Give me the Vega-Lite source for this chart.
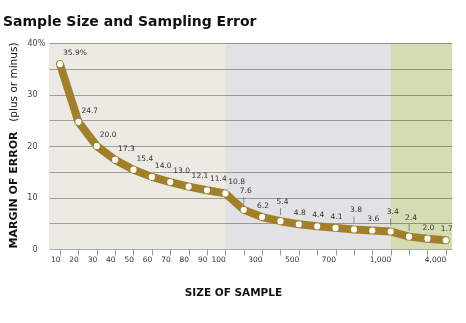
{
  "$schema": "https://vega.github.io/schema/vega-lite/v6.json",
  "width": 403,
  "height": 206,
  "autosize": {"type": "none"},
  "padding": {"left": 49, "top": 43, "right": 14, "bottom": 74},
  "background": "white",
  "config": {"view": {"fill": "white", "stroke": null}, "font": "DejaVu Sans"},
  "title": {"text": "Sample Size and Sampling Error", "anchor": "start", "frame": "group", "dx": -46, "offset": -1, "baseline": "alphabetic", "fontSize": 14, "fontWeight": "bold", "font": "DejaVu Sans", "color": "#111111"},
  "datasets": {
    "err": [
      {"n": 10, "margin": 35.9}, {"n": 20, "margin": 24.7}, {"n": 30, "margin": 20.0}, {"n": 40, "margin": 17.3},
      {"n": 50, "margin": 15.4}, {"n": 60, "margin": 14.0}, {"n": 70, "margin": 13.0}, {"n": 80, "margin": 12.1},
      {"n": 90, "margin": 11.4}, {"n": 100, "margin": 10.8}, {"n": 200, "margin": 7.6}, {"n": 300, "margin": 6.2},
      {"n": 400, "margin": 5.4}, {"n": 500, "margin": 4.8}, {"n": 600, "margin": 4.4}, {"n": 700, "margin": 4.1},
      {"n": 800, "margin": 3.8}, {"n": 900, "margin": 3.6}, {"n": 1000, "margin": 3.4}, {"n": 2000, "margin": 2.4},
      {"n": 3000, "margin": 2.0}, {"n": 4000, "margin": 1.7}
    ]
  },
  "data": {"name": "err"},
  "transform": [
    {"calculate": "format(datum.margin, '.1f') + (datum.n == 10 ? '%' : '')", "as": "label"}
  ],
  "resolve": {"axis": {"y": "independent"}},
  "layer": [
    {
      "data": {"values": [{}]},
      "mark": {"type": "rect", "color": "#ECEBE3", "blend": "multiply"},
      "encoding": {"x": {"datum": 100, "type": "ordinal"}, "x2": {"value": 0}}
    },
    {
      "data": {"values": [{}]},
      "mark": {"type": "rect", "color": "#E2E2E4", "blend": "multiply"},
      "encoding": {"x": {"datum": 100, "type": "ordinal"}, "x2": {"datum": 1000}}
    },
    {
      "data": {"values": [{}]},
      "mark": {"type": "rect", "color": "#D5DBB3", "blend": "multiply"},
      "encoding": {"x": {"datum": 1000, "type": "ordinal"}, "x2": {"value": "width"}}
    },
    {
      "mark": {"type": "line", "color": "#A17F2D", "strokeWidth": 8, "strokeJoin": "round", "strokeCap": "round"},
      "encoding": {
        "x": {
          "field": "n", "type": "ordinal",
          "scale": {"type": "point", "padding": 0.468, "align": 0.64},
          "axis": {
            "title": "SIZE OF SAMPLE", "titleFont": "DejaVu Sans", "titleFontSize": 10.5, "titleFontWeight": "bold", "titleColor": "#111111",
            "titleX": 184, "titleY": 46, "titleAlign": "center", "titleBaseline": "alphabetic", "titleAnchor": null,
            "domain": false, "ticks": true, "tickSize": 6, "tickColor": "#999999", "tickWidth": 1,
            "labelAngle": 0, "labelFont": "DejaVu Sans", "labelFontSize": 7.5, "labelColor": "#333333", "labelPadding": 4,
            "labelOverlap": false, "labelFlush": false,
            "labelExpr": "indexof([200,400,600,800,900,2000,3000], datum.value) >= 0 ? '' : format(datum.value, ',')"
          }
        },
        "y": {
          "field": "margin", "type": "quantitative",
          "scale": {"domain": [0, 40], "nice": false, "zero": true},
          "axis": {
            "orient": "left", "values": [0, 5, 10, 15, 20, 25, 30, 35, 40],
            "grid": true, "gridColor": "#ABABAB", "gridWidth": 1,
            "domain": false, "ticks": false, "tickSize": 0,
            "labelFont": "DejaVu Sans", "labelFontSize": 8, "labelColor": "#444444",
            "labelExpr": "datum.value % 10 != 0 ? '' : (datum.value == 40 ? '40%' : datum.label)",
            "labelAlign": {"condition": {"test": "datum.value == 40", "value": "left"}, "value": "right"},
            "labelPadding": {"condition": {"test": "datum.value == 40", "value": 22}, "value": 12},
            "labelBaseline": "middle",
            "title": "MARGIN OF ERROR", "titleFont": "DejaVu Sans", "titleFontSize": 11, "titleFontWeight": "bold", "titleColor": "#111111",
            "titleAngle": -90, "titleAlign": "left", "titleBaseline": "alphabetic", "titleX": -33, "titleY": 205, "titleAnchor": null
          }
        }
      }
    },
    {
      "mark": {"type": "point", "filled": true, "color": "white", "size": 38, "opacity": 1},
      "encoding": {
        "x": {"field": "n", "type": "ordinal"},
        "y": {
          "field": "margin", "type": "quantitative",
          "axis": {
            "orient": "left", "grid": false, "domain": false, "ticks": false, "labels": false,
            "title": "(plus or minus)", "titleFont": "DejaVu Sans", "titleFontSize": 10.5, "titleFontWeight": "normal", "titleColor": "#111111",
            "titleAngle": -90, "titleAlign": "right", "titleBaseline": "alphabetic", "titleX": -33, "titleY": -1, "titleAnchor": null
          }
        }
      }
    },
    {
      "transform": [{"filter": "datum.n <= 100"}],
      "mark": {"type": "text", "align": "left", "baseline": "middle", "dx": 3, "dy": -11, "font": "DejaVu Sans", "fontSize": 7.5, "color": "#333333"},
      "encoding": {
        "x": {"field": "n", "type": "ordinal"},
        "y": {"field": "margin", "type": "quantitative", "axis": null},
        "text": {"field": "label"}
      }
    },
    {
      "transform": [{"filter": "datum.n > 100 && indexof([200,400,800,1000,2000], datum.n) < 0"}],
      "mark": {"type": "text", "align": "center", "baseline": "middle", "dx": 1, "dy": -11, "font": "DejaVu Sans", "fontSize": 7.5, "color": "#333333"},
      "encoding": {
        "x": {"field": "n", "type": "ordinal"},
        "y": {"field": "margin", "type": "quantitative", "axis": null},
        "text": {"field": "label"}
      }
    },
    {
      "transform": [{"filter": "indexof([200,400,800,1000,2000], datum.n) >= 0"}],
      "mark": {"type": "text", "align": "center", "baseline": "middle", "dx": 2, "dy": -19, "font": "DejaVu Sans", "fontSize": 7.5, "color": "#333333"},
      "encoding": {
        "x": {"field": "n", "type": "ordinal"},
        "y": {"field": "margin", "type": "quantitative", "axis": null},
        "text": {"field": "label"}
      }
    },
    {
      "transform": [{"filter": "indexof([200,400,800,1000,2000], datum.n) >= 0"}],
      "mark": {"type": "rule", "color": "#666666", "strokeWidth": 0.7, "yOffset": -6, "y2Offset": -13},
      "encoding": {
        "x": {"field": "n", "type": "ordinal"},
        "y": {"field": "margin", "type": "quantitative", "axis": null},
        "y2": {"field": "margin"}
      }
    }
  ]
}
